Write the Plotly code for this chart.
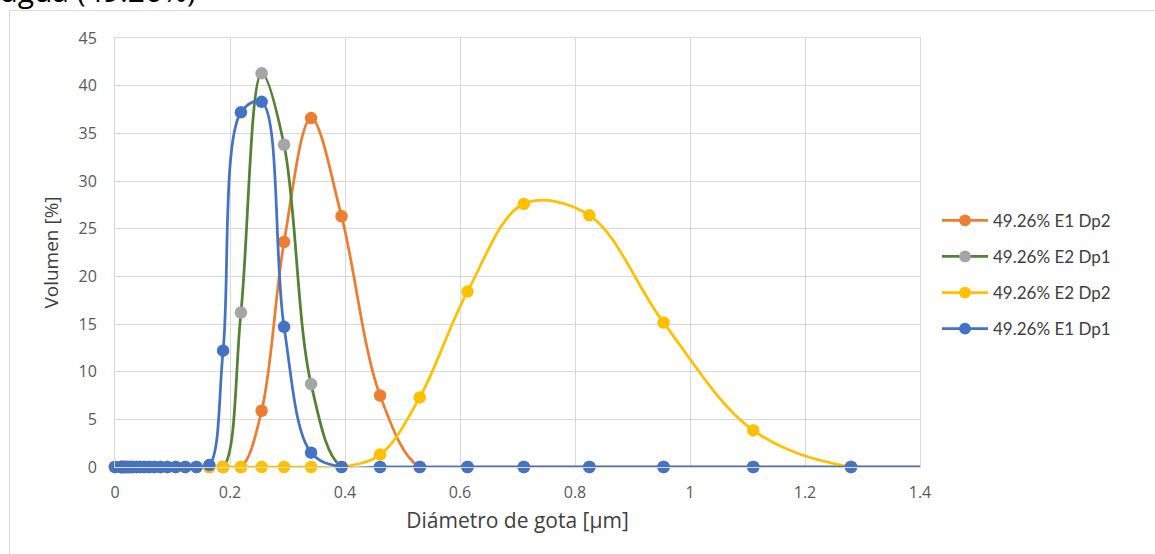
import plotly.graph_objects as go

# Droplet diameter bins (µm), shared by all four measurements
diametro = [0.0, 0.0101, 0.0117, 0.0136, 0.0157, 0.0182, 0.0210, 0.0244, 0.0282,
            0.0327, 0.0378, 0.0438, 0.0507, 0.0587, 0.0680, 0.0788, 0.0912,
            0.1056, 0.1223, 0.1416, 0.164, 0.188, 0.219, 0.255, 0.294, 0.341,
            0.394, 0.461, 0.530, 0.613, 0.711, 0.825, 0.954, 1.110, 1.280,
            1.482, 1.716]

# Volume fraction (%) per bin
e1_dp2 = [0] * 23 + [5.9, 23.6, 36.6, 26.3, 7.5, 0, 0, 0, 0, 0, 0, 0, 0, 0]
e2_dp1 = [0] * 22 + [16.2, 41.3, 33.8, 8.7, 0, 0, 0, 0, 0, 0, 0, 0, 0, 0, 0]
e2_dp2 = [0] * 27 + [1.3, 7.3, 18.4, 27.6, 26.4, 15.15, 3.84, 0, 0, 0]
e1_dp1 = [0] * 20 + [0.2, 12.2, 37.2, 38.3, 14.7, 1.5, 0, 0, 0, 0, 0, 0, 0, 0,
                     0, 0, 0]

series_names = ["49.26% E1 Dp2", "49.26% E2 Dp1", "49.26% E2 Dp2", "49.26% E1 Dp1"]
series_values = [e1_dp2, e2_dp1, e2_dp2, e1_dp1]
line_colors = ["#ED7D31", "#548235", "#FFC000", "#4472C4"]
marker_colors = ["#ED7D31", "#A5A5A5", "#FFC000", "#4472C4"]

X_MAX = 1.4
FONT = "Open Sans"
TEXT_GRAY = "#595959"
GRID = "#d9d9d9"

# hide markers of points lying past the visible axis range
marker_sizes = [12.5 if d <= X_MAX else 0 for d in diametro]

fig = go.Figure()
for name, vals, lc, mc in zip(series_names, series_values, line_colors, marker_colors):
    fig.add_trace(go.Scatter(
        x=diametro, y=vals, name=name, legendgroup=name,
        mode="lines+markers",
        line=dict(color=lc, width=2.75, shape="spline", smoothing=1.0),
        marker=dict(color=mc, size=marker_sizes, opacity=1,
                    line=dict(width=0)),
        cliponaxis=False,
    ))

# plot area in pixels: x 115..920, y 38..467.5
L, R, T, B = 115, 920, 38, 467.5
W, H = 1155, 554


def px_x(p):
    return (p - L) / (R - L)


def px_y(p):
    return (B - p) / (B - T)


fig.update_layout(
    width=W, height=H, autosize=False,
    margin=dict(l=L, r=W - R, t=T, b=H - B, pad=0),
    paper_bgcolor="white", plot_bgcolor="white",
    font=dict(family=FONT, color=TEXT_GRAY, size=16),
    showlegend=True,
    legend=dict(
        x=px_x(937), y=px_y(203), xanchor="left", yanchor="top",
        traceorder="grouped", tracegroupgap=11,
        font=dict(family="Lato", size=17, color="#404040"),
        itemwidth=46, bgcolor="rgba(0,0,0,0)",
    ),
    xaxis=dict(
        range=[0, X_MAX], dtick=0.2, tick0=0,
        showgrid=True, gridcolor=GRID, gridwidth=1, zeroline=False,
        showline=True, mirror=True, linecolor=GRID, linewidth=1,
        ticks="", ticklabelstandoff=11,
        tickfont=dict(size=16, color=TEXT_GRAY),
        title=dict(text="Diámetro de gota [µm]", standoff=11,
                   font=dict(size=21, color="#404040")),
    ),
    yaxis=dict(
        range=[0, 45], dtick=5, tick0=0,
        showgrid=True, gridcolor=GRID, gridwidth=1, zeroline=False,
        showline=True, mirror=True, linecolor=GRID, linewidth=1,
        ticks="", ticklabelstandoff=14,
        tickfont=dict(size=16, color=TEXT_GRAY),
        title=dict(text="Volumen [%]", standoff=14,
                   font=dict(size=19, color="#404040")),
    ),
    shapes=[dict(
        type="rect", xref="paper", yref="paper", layer="below",
        x0=px_x(9.5), x1=px_x(1170), y0=px_y(580), y1=px_y(10.5),
        line=dict(color=GRID, width=1), fillcolor="rgba(0,0,0,0)",
    )],
    annotations=[dict(
        text="agua (49.26%)", xref="paper", yref="paper",
        x=px_x(-1), y=px_y(13), xanchor="left", yanchor="bottom",
        showarrow=False, font=dict(family=FONT, size=30, color="#000000"),
    )],
)

fig.write_html("out.html")
